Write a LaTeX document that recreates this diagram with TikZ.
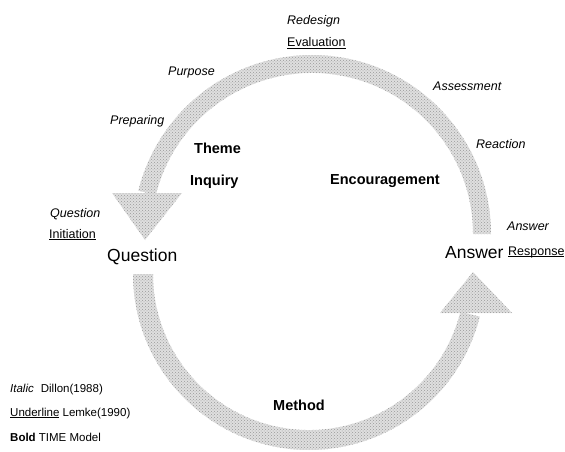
\documentclass[tikz,border=0pt]{standalone}
\usepackage{fontspec}
\setmainfont{Liberation Sans}
\usetikzlibrary{patterns,calc}
% underline kept at a fixed depth below the baseline
\newcommand\ulin[1]{\underline{\smash{#1}}}
\begin{document}
\begin{tikzpicture}[x=1pt,y=-1pt,
  lbl/.style={anchor=base west, inner sep=0pt},
  dillon/.style={lbl, font=\fontsize{12.5}{15}\selectfont\itshape},
  lemke/.style={lbl, font=\fontsize{12.5}{15}\selectfont},
  timek/.style={lbl, font=\fontsize{14.5}{17}\selectfont\bfseries},
  turn/.style={lbl, font=\fontsize{17.5}{20}\selectfont},
  legend/.style={lbl, font=\fontsize{11.5}{14}\selectfont},
  band/.style={preaction={fill=gray!25}, pattern=crosshatch dots, pattern color=gray!80}]
\useasboundingbox (0,0) rectangle (565,452);

% centres of the two half-cycles
\coordinate (tc) at (312,234);
\coordinate (bc) at (309,274);

% upper arrow: Answer -> Question
\fill[band] ($(tc)+(0:179)$) arc[start angle=0,end angle=-166,radius=179]
  -- ($(tc)+(-166:161)$) arc[start angle=-166,end angle=0,radius=161] -- cycle;
\coordinate (qhl) at (112,193);
\coordinate (qhr) at (182,193);
\coordinate (qtip) at (145,240);
\fill[band] (qhl) -- (qhr) -- (qtip) -- cycle;

% lower arrow: Question -> Answer
\fill[band] ($(bc)+(180:176)$) arc[start angle=180,end angle=14,radius=176]
  -- ($(bc)+(14:156)$) arc[start angle=14,end angle=180,radius=156] -- cycle;
\coordinate (ahl) at (440,313);
\coordinate (ahr) at (512,313);
\coordinate (atip) at (473,272);
\fill[band] (ahl) -- (ahr) -- (atip) -- cycle;

% the two turns
\node[turn] (question) at (107,261) {Question};
\node[turn] (answer) at (445,258) {Answer};

% Dillon (1988)
\node[dillon] (redesign) at (287,25) {Redesign};
\node[dillon] (purpose) at (168,76) {Purpose};
\node[dillon] (preparing) at (110,124) {Preparing};
\node[dillon] (assessment) at (433,90) {Assessment};
\node[dillon] (reaction) at (476,148) {Reaction};
\node[dillon] (dquestion) at (50,217) {Question};
\node[dillon] (danswer) at (507,230) {Answer};

% Lemke (1990)
\node[lemke] (evaluation) at (287,47) {\ulin{Evaluation}};
\node[lemke] (initiation) at (49,238) {\ulin{Initiation}};
\node[lemke] (response) at (508,255) {\ulin{Response}};

% TIME model
\node[timek] (theme) at (194,153) {Theme};
\node[timek] (inquiry) at (190,185) {Inquiry};
\node[timek] (encouragement) at (330,184) {Encouragement};
\node[timek] (method) at (273,410) {Method};

% key
\node[legend] (key1) at (10,392) {{\itshape Italic}\hspace{7pt}Dillon(1988)};
\node[legend] (key2) at (10,416) {\ulin{Underline} Lemke(1990)};
\node[legend] (key3) at (10,441) {{\bfseries Bold} TIME Model};
\end{tikzpicture}
\end{document}
